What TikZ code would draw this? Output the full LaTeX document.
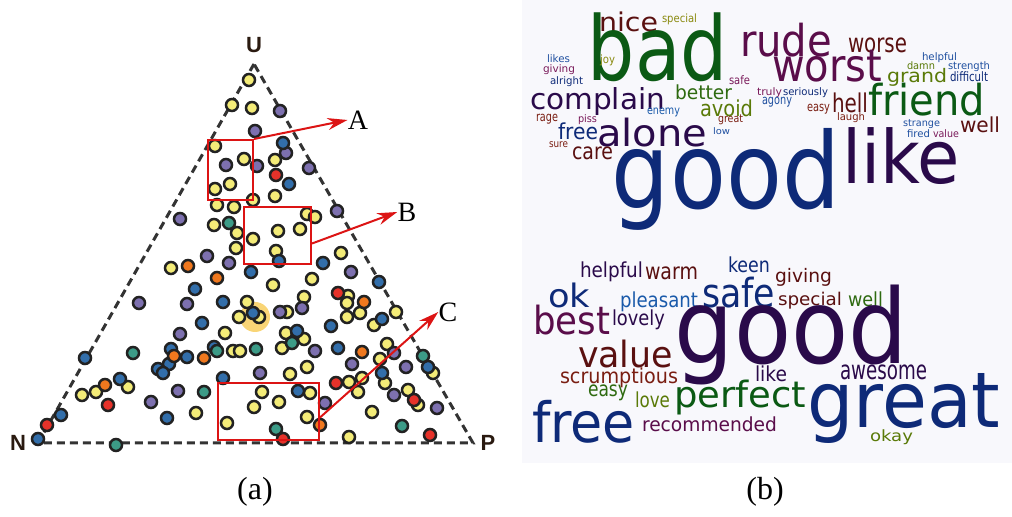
\documentclass[tikz,border=0pt]{standalone}
\usepackage{fontspec}
\setmainfont{Liberation Serif}
\newfontfamily\cloudfont{DejaVu Sans}
\newfontfamily\cornerfont{Liberation Sans}
\usepackage{graphicx}
\usetikzlibrary{arrows.meta}

\newlength\pxu
\setlength\pxu{0.5pt}
\newcommand{\cw}[3]{\resizebox*{#1\pxu}{#2\pxu}{\cloudfont #3}}

\definecolor{dY}{HTML}{F4EC78}
\definecolor{dP}{HTML}{7D70AF}
\definecolor{dB}{HTML}{326EAA}
\definecolor{dG}{HTML}{3C9B87}
\definecolor{dR}{HTML}{E6322A}
\definecolor{dO}{HTML}{F0781E}
\definecolor{dotrim}{HTML}{222222}
\definecolor{boxred}{HTML}{DC1414}
\definecolor{framegray}{HTML}{333333}
\definecolor{cornertxt}{HTML}{2A1A10}
\definecolor{cloudbg}{HTML}{F8F8FC}
\definecolor{cNavy}{HTML}{0E2A78}
\definecolor{cInk}{HTML}{2A0A4A}
\definecolor{cPlum}{HTML}{5A0D4A}
\definecolor{cMaroon}{HTML}{5A1010}
\definecolor{cBrick}{HTML}{7A1E12}
\definecolor{cMagenta}{HTML}{7A1A5A}
\definecolor{cGreen}{HTML}{0B5A14}
\definecolor{cGrass}{HTML}{2E6A10}
\definecolor{cOlive}{HTML}{5A7A08}
\definecolor{cMustard}{HTML}{8A8A10}
\definecolor{cBlue}{HTML}{2050A0}
\definecolor{cSky}{HTML}{1A5AAA}

\tikzset{
    word/.style={inner sep=0, anchor=center},
    dot/.style={draw=dotrim, line width=1.25pt},
    halo/.style={fill=dY!70!orange, opacity=0.8},
    frame/.style={draw=framegray, line width=1.5pt, dash pattern=on 4pt off 2.5pt},
    zone/.style={draw=boxred, line width=1pt, inner sep=0},
    corner/.style={font=\cornerfont\bfseries\fontsize{11}{11}\selectfont, text=cornertxt, inner sep=0},
    tag/.style={font=\fontsize{14}{14}\selectfont, inner sep=0},
    caption/.style={font=\fontsize{16}{16}\selectfont, inner sep=0},
    pointer/.style={draw=boxred, line width=1pt, -{Stealth[length=10pt,width=6pt]}}
}

\begin{document}
\begin{tikzpicture}[x=0.5pt,y=-0.5pt]
\useasboundingbox (0,0) rectangle (1012,517);

% (a) ternary plot
\coordinate (U) at (254,64);
\coordinate (N) at (38,443);
\coordinate (P) at (473,443);
\draw[frame] (U) -- (N) -- (P) -- cycle;

\node[corner] (labU) at (254,45) {U};
\node[corner] (labN) at (18,443) {N};
\node[corner] (labP) at (488,443) {P};

\fill[halo] (255,317) circle[radius=7.5pt];

\foreach \x/\y in {249/80, 232/105, 252/108, 215/146, 244/159, 275/160, 230/184, 215/189,
    253/200, 275/196, 217/205, 234/207, 307/214, 315/217, 214/225, 237/233, 253/239, 278/231,
    300/229, 236/248, 276/251, 341/253, 171/268, 312/279, 273/285, 247/302, 239/317, 259/317,
    287/312, 304/297, 348/296, 347/303, 360/313, 347/317, 396/312, 374/325, 225/333, 286/333,
    304/339, 282/348, 387/344, 380/359, 433/373, 233/351, 240/351, 290/374, 307/367, 362/378,
    349/382, 358/392, 385/383, 408/390, 418/405, 372/412, 349/437, 128/387, 82/395, 96/392,
    196/413, 262/392, 279/402, 254/407, 310/393, 307/417, 227/423}
    \draw[dot, fill=dY] (\x,\y) circle[radius=3pt];

\foreach \x/\y/\c in {280/111/dP, 255/131/dP, 286/153/dP, 226/165/dP, 257/166/dP, 309/168/dP,
    337/211/dP, 180/219/dP, 207/256/dP, 229/263/dP, 351/272/dP, 139/303/dP, 187/304/dP,
    280/312/dP, 302/308/dP, 180/334/dP, 315/351/dP, 394/353/dP, 406/367/dP, 260/373/dP,
    352/364/dP, 394/395/dP, 437/408/dP, 178/391/dP, 151/402/dP, 325/403/dP,
    283/143/dB, 289/184/dB, 279/261/dB, 323/263/dB, 251/272/dB, 195/289/dB, 379/282/dB,
    223/302/dB, 253/313/dB, 382/319/dB, 202/323/dB, 331/326/dB, 297/331/dB, 338/348/dB,
    428/367/dB, 85/358/dB, 171/349/dB, 187/357/dB, 169/364/dB, 158/369/dB, 163/373/dB,
    214/347/dB, 382/373/dB, 120/379/dB, 223/378/dB, 167/418/dB, 61/415/dB, 38/439/dB, 298/391/dB,
    229/223/dG, 292/343/dG, 423/356/dG, 133/353/dG, 217/351/dG, 256/349/dG, 402/426/dG,
    204/392/dG, 116/445/dG, 276/429/dG,
    276/175/dR, 338/293/dR, 336/383/dR, 414/400/dR, 430/435/dR, 108/405/dR, 47/425/dR, 283/439/dR,
    188/266/dO, 217/278/dO, 364/302/dO, 362/352/dO, 174/356/dO, 204/358/dO, 105/385/dO, 320/425/dO}
    \draw[dot, fill=\c] (\x,\y) circle[radius=3pt];

\node[zone, minimum width=22.5pt, minimum height=30pt] (boxA) at (230.5,170) {};
\node[zone, minimum width=33.5pt, minimum height=28.5pt] (boxB) at (277.5,235.5) {};
\node[zone, minimum width=50.5pt, minimum height=28.5pt] (boxC) at (268.5,411.5) {};

\node[tag] (labA) at (358,120) {A};
\node[tag] (labB) at (407,212) {B};
\node[tag] (labC) at (448,312) {C};

\draw[pointer] (boxA.north east) -- (labA.west);
\draw[pointer] ([yshift=-4pt]boxB.east) -- (labB.west);
\draw[pointer] ([yshift=-3pt]boxC.east) -- (labC.west);

\node[caption] (capA) at (255,492) {(a)};

% (b) word clouds
\fill[cloudbg] (522,0) rectangle (1012,463);

% negative cloud
\node[word, text=cMaroon] (tnice) at (628.5,22) {\cw{59}{20}{nice}};
\node[word, text=cMustard] (tspecial) at (679.5,19.5) {\cw{35}{11}{special}};
\node[word, text=cGreen] (tbad) at (658,47.5) {\cw{140}{69}{bad}};
\node[word, text=cPlum] (trude) at (786,40) {\cw{92}{34}{rude}};
\node[word, text=cMaroon] (tworse) at (877.5,45.5) {\cw{59}{15}{worse}};
\node[word, text=cPlum] (tworst) at (827,66) {\cw{110}{32}{worst}};
\node[word, text=cBlue] (thelpful) at (939.5,58) {\cw{35}{10}{helpful}};
\node[word, text=cBlue] (tlikes) at (558.5,59) {\cw{23}{8}{likes}};
\node[word, text=cMustard] (tjoy) at (607.5,60.5) {\cw{15}{11}{joy}};
\node[word, text=cMagenta] (tgiving) at (559,70) {\cw{32}{10}{giving}};
\node[word, text=cOlive] (tdamn) at (921,66) {\cw{28}{8}{damn}};
\node[word, text=cBlue] (tstrength) at (969,67) {\cw{42}{10}{strength}};
\node[word, text=cOlive] (tgrand) at (917,77) {\cw{60}{18}{grand}};
\node[word, text=cNavy] (tdifficult) at (969,77) {\cw{38}{10}{difficult}};
\node[word, text=cNavy] (talright) at (566.5,82) {\cw{33}{10}{alright}};
\node[word, text=cMagenta] (tsafe) at (739.5,80.5) {\cw{21}{9}{safe}};
\node[word, text=cInk] (tcomplain) at (597.5,102) {\cw{135}{28}{complain}};
\node[word, text=cGrass] (tbetter) at (703.5,92.5) {\cw{57}{15}{better}};
\node[word, text=cMagenta] (ttruly) at (769.5,93) {\cw{25}{10}{truly}};
\node[word, text=cNavy] (tseriously) at (805.5,93) {\cw{45}{10}{seriously}};
\node[word, text=cBlue] (tagony) at (777,102) {\cw{30}{10}{agony}};
\node[word, text=cGreen] (tfriend) at (926.5,99.5) {\cw{117}{33}{friend}};
\node[word, text=cMaroon] (thell) at (850,103) {\cw{36}{20}{hell}};
\node[word, text=cOlive] (tavoid) at (726.5,108.5) {\cw{53}{17}{avoid}};
\node[word, text=cBrick] (teasy) at (818.5,109) {\cw{23}{10}{easy}};
\node[word, text=cSky] (tenemy) at (663.5,112.5) {\cw{33}{9}{enemy}};
\node[word, text=cBrick] (trage) at (547,119) {\cw{22}{10}{rage}};
\node[word, text=cMagenta] (tpiss) at (587.5,120) {\cw{19}{10}{piss}};
\node[word, text=cBrick] (tlaugh) at (851,118) {\cw{28}{10}{laugh}};
\node[word, text=cBrick] (tgreat) at (730.5,120) {\cw{25}{10}{great}};
\node[word, text=cMaroon] (twell) at (980,125) {\cw{40}{16}{well}};
\node[word, text=cBlue] (tstrange) at (921.5,124.5) {\cw{37}{9}{strange}};
\node[word, text=cNavy] (tfree) at (578,131.5) {\cw{40}{17}{free}};
\node[word, text=cInk] (talone) at (652,132.5) {\cw{110}{29}{alone}};
\node[word, text=cBlue] (tlow) at (721.5,131.5) {\cw{17}{7}{low}};
\node[word, text=cBlue] (tfired) at (918.5,134) {\cw{23}{8}{fired}};
\node[word, text=cMagenta] (tvalue) at (946,134) {\cw{26}{8}{value}};
\node[word, text=cBrick] (tsure) at (558.5,145) {\cw{19}{6}{sure}};
\node[word, text=cMaroon] (tcare) at (592.5,153.5) {\cw{41}{13}{care}};
\node[word, text=cNavy] (tgood) at (726,179) {\cw{228}{102}{good}};
\node[word, text=cInk] (tlike) at (901,156.5) {\cw{118}{57}{like}};

% positive cloud
\node[word, text=cInk] (bhelpful) at (611.5,272) {\cw{63}{20}{helpful}};
\node[word, text=cMaroon] (bwarm) at (671.5,273.5) {\cw{53}{13}{warm}};
\node[word, text=cNavy] (bkeen) at (749,265) {\cw{42}{16}{keen}};
\node[word, text=cMaroon] (bgiving) at (803.5,277) {\cw{57}{18}{giving}};
\node[word, text=cNavy] (bok) at (569,295.5) {\cw{42}{25}{ok}};
\node[word, text=cNavy] (bsafe) at (738.5,292.5) {\cw{73}{31}{safe}};
\node[word, text=cSky] (bpleasant) at (659,302) {\cw{78}{20}{pleasant}};
\node[word, text=cMaroon] (bspecial) at (810,300.5) {\cw{64}{17}{special}};
\node[word, text=cGrass] (bwell) at (865.5,299.5) {\cw{35}{15}{well}};
\node[word, text=cPlum] (bbest) at (571.5,320) {\cw{77}{30}{best}};
\node[word, text=cInk] (blovely) at (638.5,320) {\cw{53}{20}{lovely}};
\node[word, text=cInk] (bgood) at (791.5,335) {\cw{233}{100}{good}};
\node[word, text=cMaroon] (bvalue) at (625.5,354) {\cw{95}{28}{value}};
\node[word, text=cBrick] (bscrumptious) at (619,378) {\cw{118}{20}{scrumptious}};
\node[word, text=cInk] (blike) at (771,374) {\cw{32}{16}{like}};
\node[word, text=cInk] (bawesome) at (883.5,372.5) {\cw{87}{15}{awesome}};
\node[word, text=cGrass] (beasy) at (608,393) {\cw{40}{16}{easy}};
\node[word, text=cOlive] (blove) at (652.5,400) {\cw{35}{16}{love}};
\node[word, text=cGreen] (bperfect) at (740,397.5) {\cw{132}{35}{perfect}};
\node[word, text=cNavy] (bgreat) at (904,408) {\cw{193}{70}{great}};
\node[word, text=cNavy] (bfree) at (583.5,421.5) {\cw{103}{43}{free}};
\node[word, text=cPlum] (brecommended) at (709.5,424.5) {\cw{135}{15}{recommended}};
\node[word, text=cOlive] (bokay) at (891.5,437.5) {\cw{43}{15}{okay}};

\node[caption] (capB) at (765,492) {(b)};

\end{tikzpicture}
\end{document}
